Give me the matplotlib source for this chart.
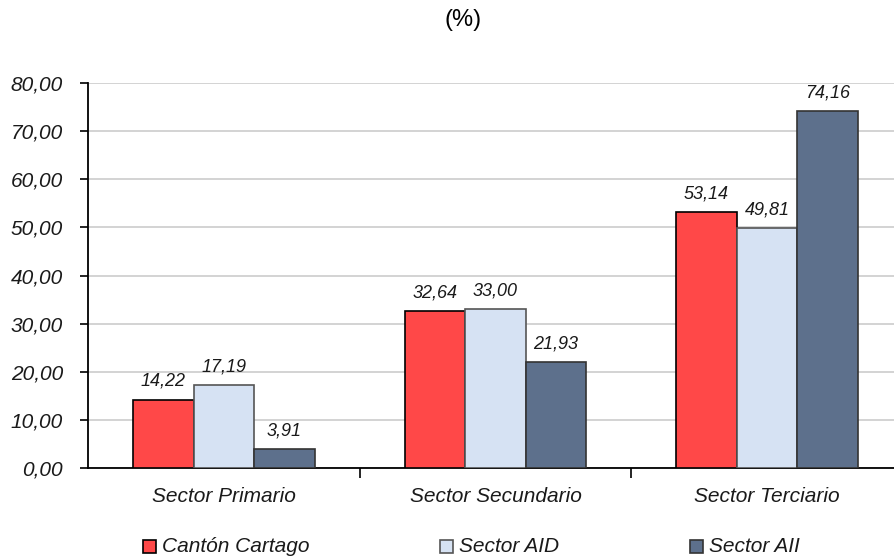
import matplotlib
matplotlib.use("Agg")
import matplotlib.pyplot as plt
import numpy as np

categories = ["Sector Primario", "Sector Secundario", "Sector Terciario"]
series_names = ["Cantón Cartago", "Sector AID", "Sector AII"]
canton = [14.22, 32.64, 53.14]
aid = [17.19, 33.00, 49.81]
aii = [3.91, 21.93, 74.16]
yticks = [0, 10, 20, 30, 40, 50, 60, 70, 80]

colors = ["#FF4848", "#D6E2F3", "#5D708C"]
edges = ["#000000", "#555555", "#333333"]

plt.rcParams['font.family'] = ['Liberation Sans', 'DejaVu Sans']

fig = plt.figure(figsize=(8.94, 5.58), dpi=100)
ax = fig.add_axes([88/894, 1-468/558, (903-88)/894, (468-83)/558])

x = np.arange(len(categories))
w = 0.223
for i, vals in enumerate([canton, aid, aii]):
    pos = x + (i - 1) * w
    ax.bar(pos, vals, width=w, color=colors[i], edgecolor=edges[i], linewidth=1.2, zorder=3)
    for p, v in zip(pos, vals):
        ax.annotate(f"{v:.2f}".replace('.', ','), (p, v), xytext=(0, 7), textcoords='offset points',
                    ha='center', va='bottom', fontsize=13, style='italic', color='#1a1a1a')

ax.set_xlim(-0.5, 2.5)
ax.set_ylim(0, 80)
ax.set_yticks(yticks)
ax.set_yticklabels([f"{t:.2f}".replace('.', ',') for t in yticks], fontsize=15, style='italic', color='#1a1a1a')
ax.yaxis.grid(True, color='#D0D0D0', linewidth=1.3, zorder=0)
ax.set_axisbelow(True)
ax.set_xticks([0.5, 1.5])
ax.set_xticklabels([])
ax.tick_params(axis='x', direction='out', length=7, width=1.2)
ax.tick_params(axis='y', direction='out', length=6, width=1.2, pad=12)
for s in ['top', 'right']:
    ax.spines[s].set_visible(False)
for s in ['left', 'bottom']:
    ax.spines[s].set_linewidth(1.3)
for i, c in enumerate(categories):
    ax.text(i, -4.0, c, ha='center', va='top', fontsize=15, style='italic', color='#1a1a1a')

fig.text(463/894, 1-20/558, "(%)", ha='center', va='center', fontsize=17)

pos_x = [150, 447, 697]
for i in range(3):
    fig.patches.append(plt.Rectangle(((pos_x[i]-7)/894, 1-553/558), 13/894, 13/558, transform=fig.transFigure,
                                     facecolor=colors[i], edgecolor=edges[i], linewidth=1.2))
    fig.text((pos_x[i]+12)/894, 1-546/558, series_names[i], ha='left', va='center', fontsize=15, style='italic', color='#1a1a1a')

fig.savefig("out.png", dpi=100)
